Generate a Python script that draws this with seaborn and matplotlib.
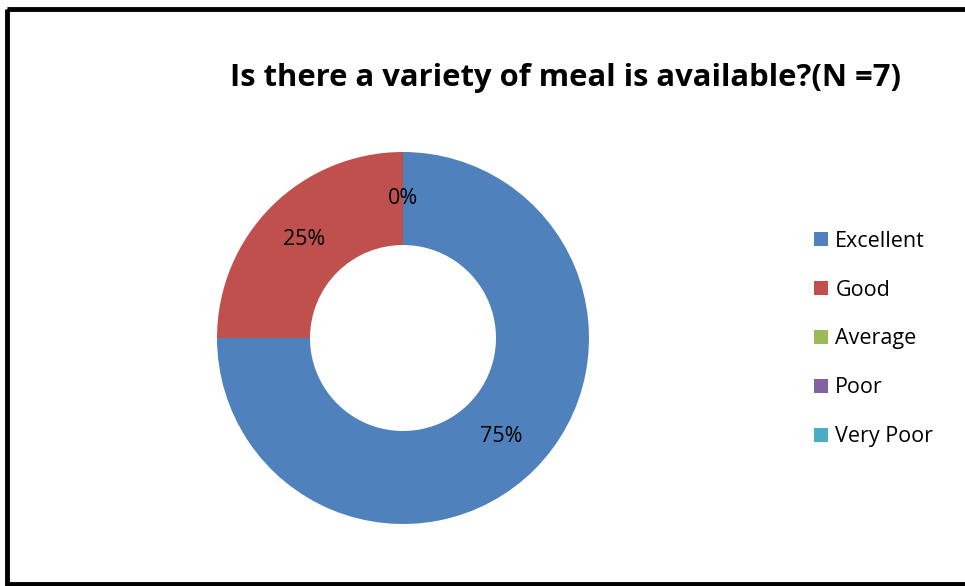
import matplotlib
matplotlib.use("Agg")
import matplotlib.pyplot as plt
import seaborn as sns
from matplotlib.patches import Rectangle

# data
categories = ["Excellent", "Good", "Average", "Poor", "Very Poor"]
shares = [75, 25, 0, 0, 0]
colors = ["#4F81BD", "#C0504D", "#9BBB59", "#8064A2", "#4BACC6"]

sns.set_style("white")
plt.rcParams['font.family'] = ['Open Sans', 'DejaVu Sans']
plt.rcParams['text.color'] = 'black'

fig = plt.figure(figsize=(9.65, 5.86), dpi=100)
ax = fig.add_axes([0, 0, 1, 1])
ax.set_xlim(0, 965)
ax.set_ylim(586, 0)
ax.axis("off")

# donut: centre (403, 338), outer radius 186
pie_ax = fig.add_axes([(403 - 186) / 965, (586 - 338 - 186) / 586, 372 / 965, 372 / 586])
wedges, texts, autotexts = pie_ax.pie(
    shares, colors=colors, startangle=90, counterclock=False,
    autopct=lambda p: f"{p:.0f}%", pctdistance=0.75,
    wedgeprops=dict(width=0.5, linewidth=0),
    textprops=dict(fontsize=15.5, color="black"))
pie_ax.set_xlim(-1, 1)
pie_ax.set_ylim(-1, 1)
pie_ax.set_aspect("equal")
# the three 0% labels sit on top of each other; show one
for t in autotexts[3:]:
    t.set_visible(False)

fig.text(565 / 965, 1 - 78 / 586, "Is there a variety of meal is available?(N =7)",
         ha="center", va="center", fontsize=22.3, fontweight="bold", color="black")

leg = fig.legend(wedges, categories, loc="center left",
                 bbox_to_anchor=(803 / 965, 1 - 339 / 586), frameon=False,
                 fontsize=15.5, handlelength=0.65, handleheight=0.65,
                 handletextpad=0.35, labelspacing=1.3, borderpad=0,
                 labelcolor="black")

# outer frame (open on the right)
ax.add_patch(Rectangle((7, 9), 980, 575, fill=False, edgecolor="black",
                       linewidth=3.5, clip_on=False))

fig.savefig("out.png", dpi=100)
